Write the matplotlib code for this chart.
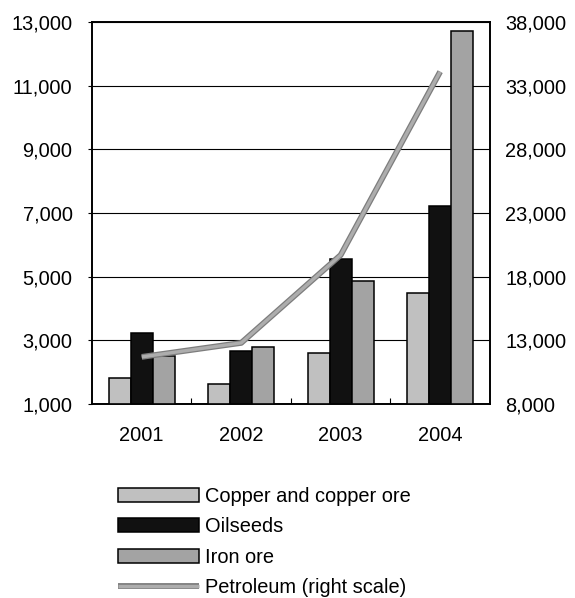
import matplotlib
matplotlib.use("Agg")
import matplotlib.pyplot as plt
import matplotlib.patheffects as pe
from matplotlib.ticker import FuncFormatter, FixedLocator
import numpy as np

plt.rcParams['font.family'] = ['Liberation Sans', 'DejaVu Sans']

years = ['2001', '2002', '2003', '2004']
copper = [1820, 1630, 2610, 4480]
oilseeds = [3220, 2680, 5540, 7220]
iron_ore = [2510, 2780, 4870, 12720]
petroleum = [11700, 12800, 19700, 34100]

left_ticks = [1000, 3000, 5000, 7000, 9000, 11000, 13000]
right_ticks = [8000, 13000, 18000, 23000, 28000, 33000, 38000]

fs = 14.4
fig = plt.figure(figsize=(5.75, 5.98), dpi=100)
ax = fig.add_axes([0.16, 0.3244, 0.692, 0.6388])

x = np.arange(len(years))
w = 0.22
edge = dict(edgecolor='black', linewidth=1.1)
ax.bar(x - w, copper, w, color='#c0c0c0', label='Copper and copper ore', zorder=3, **edge)
ax.bar(x, oilseeds, w, color='#111111', label='Oilseeds', zorder=3, **edge)
ax.bar(x + w, iron_ore, w, color='#a3a3a3', label='Iron ore', zorder=3, **edge)

ax.set_xlim(-0.5, len(years) - 0.5)
ax.set_ylim(left_ticks[0], left_ticks[-1])
ax.set_yticks(left_ticks)
ax.yaxis.set_major_formatter(FuncFormatter(lambda v, p: f'{v:,.0f}'))
ax.grid(axis='y', color='black', linewidth=0.8, zorder=0)
ax.set_axisbelow(True)

ax.set_xticks(x)
ax.set_xticklabels(years)
ax.xaxis.set_minor_locator(FixedLocator([0.5, 1.5, 2.5]))
ax.tick_params(axis='x', which='major', length=0, pad=16, labelsize=fs)
ax.tick_params(axis='x', which='minor', direction='in', length=4, width=0.8)
ax.tick_params(axis='y', length=3, width=0.8, pad=11, labelsize=fs)
for s in ax.spines.values():
    s.set_linewidth(1.2)

# petroleum on the right-hand scale
ax2 = ax.twinx()
ax2.plot(x, petroleum, color='#adadad', linewidth=2.4, label='Petroleum (right scale)',
         solid_capstyle='butt', zorder=4,
         path_effects=[pe.Stroke(linewidth=4.2, foreground='#7d7d7d'), pe.Normal()])
ax2.set_ylim(right_ticks[0], right_ticks[-1])
ax2.set_yticks(right_ticks)
ax2.yaxis.set_major_formatter(FuncFormatter(lambda v, p: f'{v:,.0f}'))
ax2.tick_params(axis='y', length=0, pad=11, labelsize=fs)
for s in ax2.spines.values():
    s.set_linewidth(1.2)

h1, l1 = ax.get_legend_handles_labels()
h2, l2 = ax2.get_legend_handles_labels()
fig.legend(h1 + h2, l1 + l2, loc='upper left', bbox_to_anchor=(0.2052, 0.186),
           frameon=False, fontsize=fs, handlelength=4.05, handleheight=0.7,
           handletextpad=0.3, labelspacing=0.57, borderpad=0, borderaxespad=0)

fig.savefig('out.png', dpi=100)
